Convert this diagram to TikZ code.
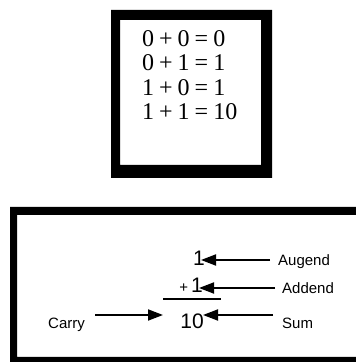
\documentclass[tikz,border=0pt]{standalone}
\usepackage{fontspec}
\setmainfont{Liberation Serif}
\newfontfamily\arialf{Liberation Sans}
\usetikzlibrary{arrows.meta}
\newcommand{\eqsp}{\kern5pt}
\begin{document}
\begin{tikzpicture}[x=1pt,y=1pt,
  eq/.style={anchor=base west,inner sep=0pt,font=\fontsize{24}{24}\selectfont},
  num/.style={anchor=base east,inner sep=0pt,font=\arialf\fontsize{21}{21}\selectfont},
  lbl/.style={anchor=base west,inner sep=0pt,font=\arialf\fontsize{15}{15}\selectfont},
  arr/.style={line width=1.8pt,-{Triangle[length=15pt,width=11pt]}},
  frame/.style={fill=black,even odd rule}]
\useasboundingbox (0,0) rectangle (356,362);
% top frame
\fill[frame] (111,352) rectangle (272,184) (120,342) rectangle (261,197);
\node[eq] (l1) at (142,315) {0\eqsp+\eqsp0\eqsp=\eqsp0};
\node[eq] (l2) at (142,291) {0\eqsp+\eqsp1\eqsp=\eqsp1};
\node[eq] (l3) at (142,266) {1\eqsp+\eqsp0\eqsp=\eqsp1};
\node[eq] (l4) at (142,242) {1\eqsp+\eqsp1\eqsp=\eqsp10};
% bottom frame
\fill[frame] (10,155) rectangle (375,-8) (17,147) rectangle (365,5);
\node[num] (aug) at (205,96) {1};
\node[num] (add) at (203,69) {{\fontsize{15}{15}\selectfont+}\kern3pt1};
\node[num] (sum) at (204,34) {10};
\coordinate (rl) at (163,63);
\coordinate (rr) at (221,63);
\draw[line width=2pt] (rl) -- (rr);
\node[lbl] (augl) at (278,96) {Augend};
\node[lbl] (addl) at (282,68) {Addend};
\node[lbl] (suml) at (282,34) {Sum};
\node[lbl] (carry) at (48,33) {Carry};
\draw[arr,shorten <=8pt,shorten >=-4pt] (augl.west |- 0,102) -- (aug.east |- 0,102);
\draw[arr,shorten <=7pt,shorten >=-4pt] (addl.west |- 0,74) -- (add.east |- 0,74);
\draw[arr,shorten <=9pt,shorten >=-1pt] (suml.west |- 0,47) -- (sum.east |- 0,47);
\draw[arr,shorten <=10pt] (carry.east |- 0,47) -- (rl |- 0,47);
\end{tikzpicture}
\end{document}
